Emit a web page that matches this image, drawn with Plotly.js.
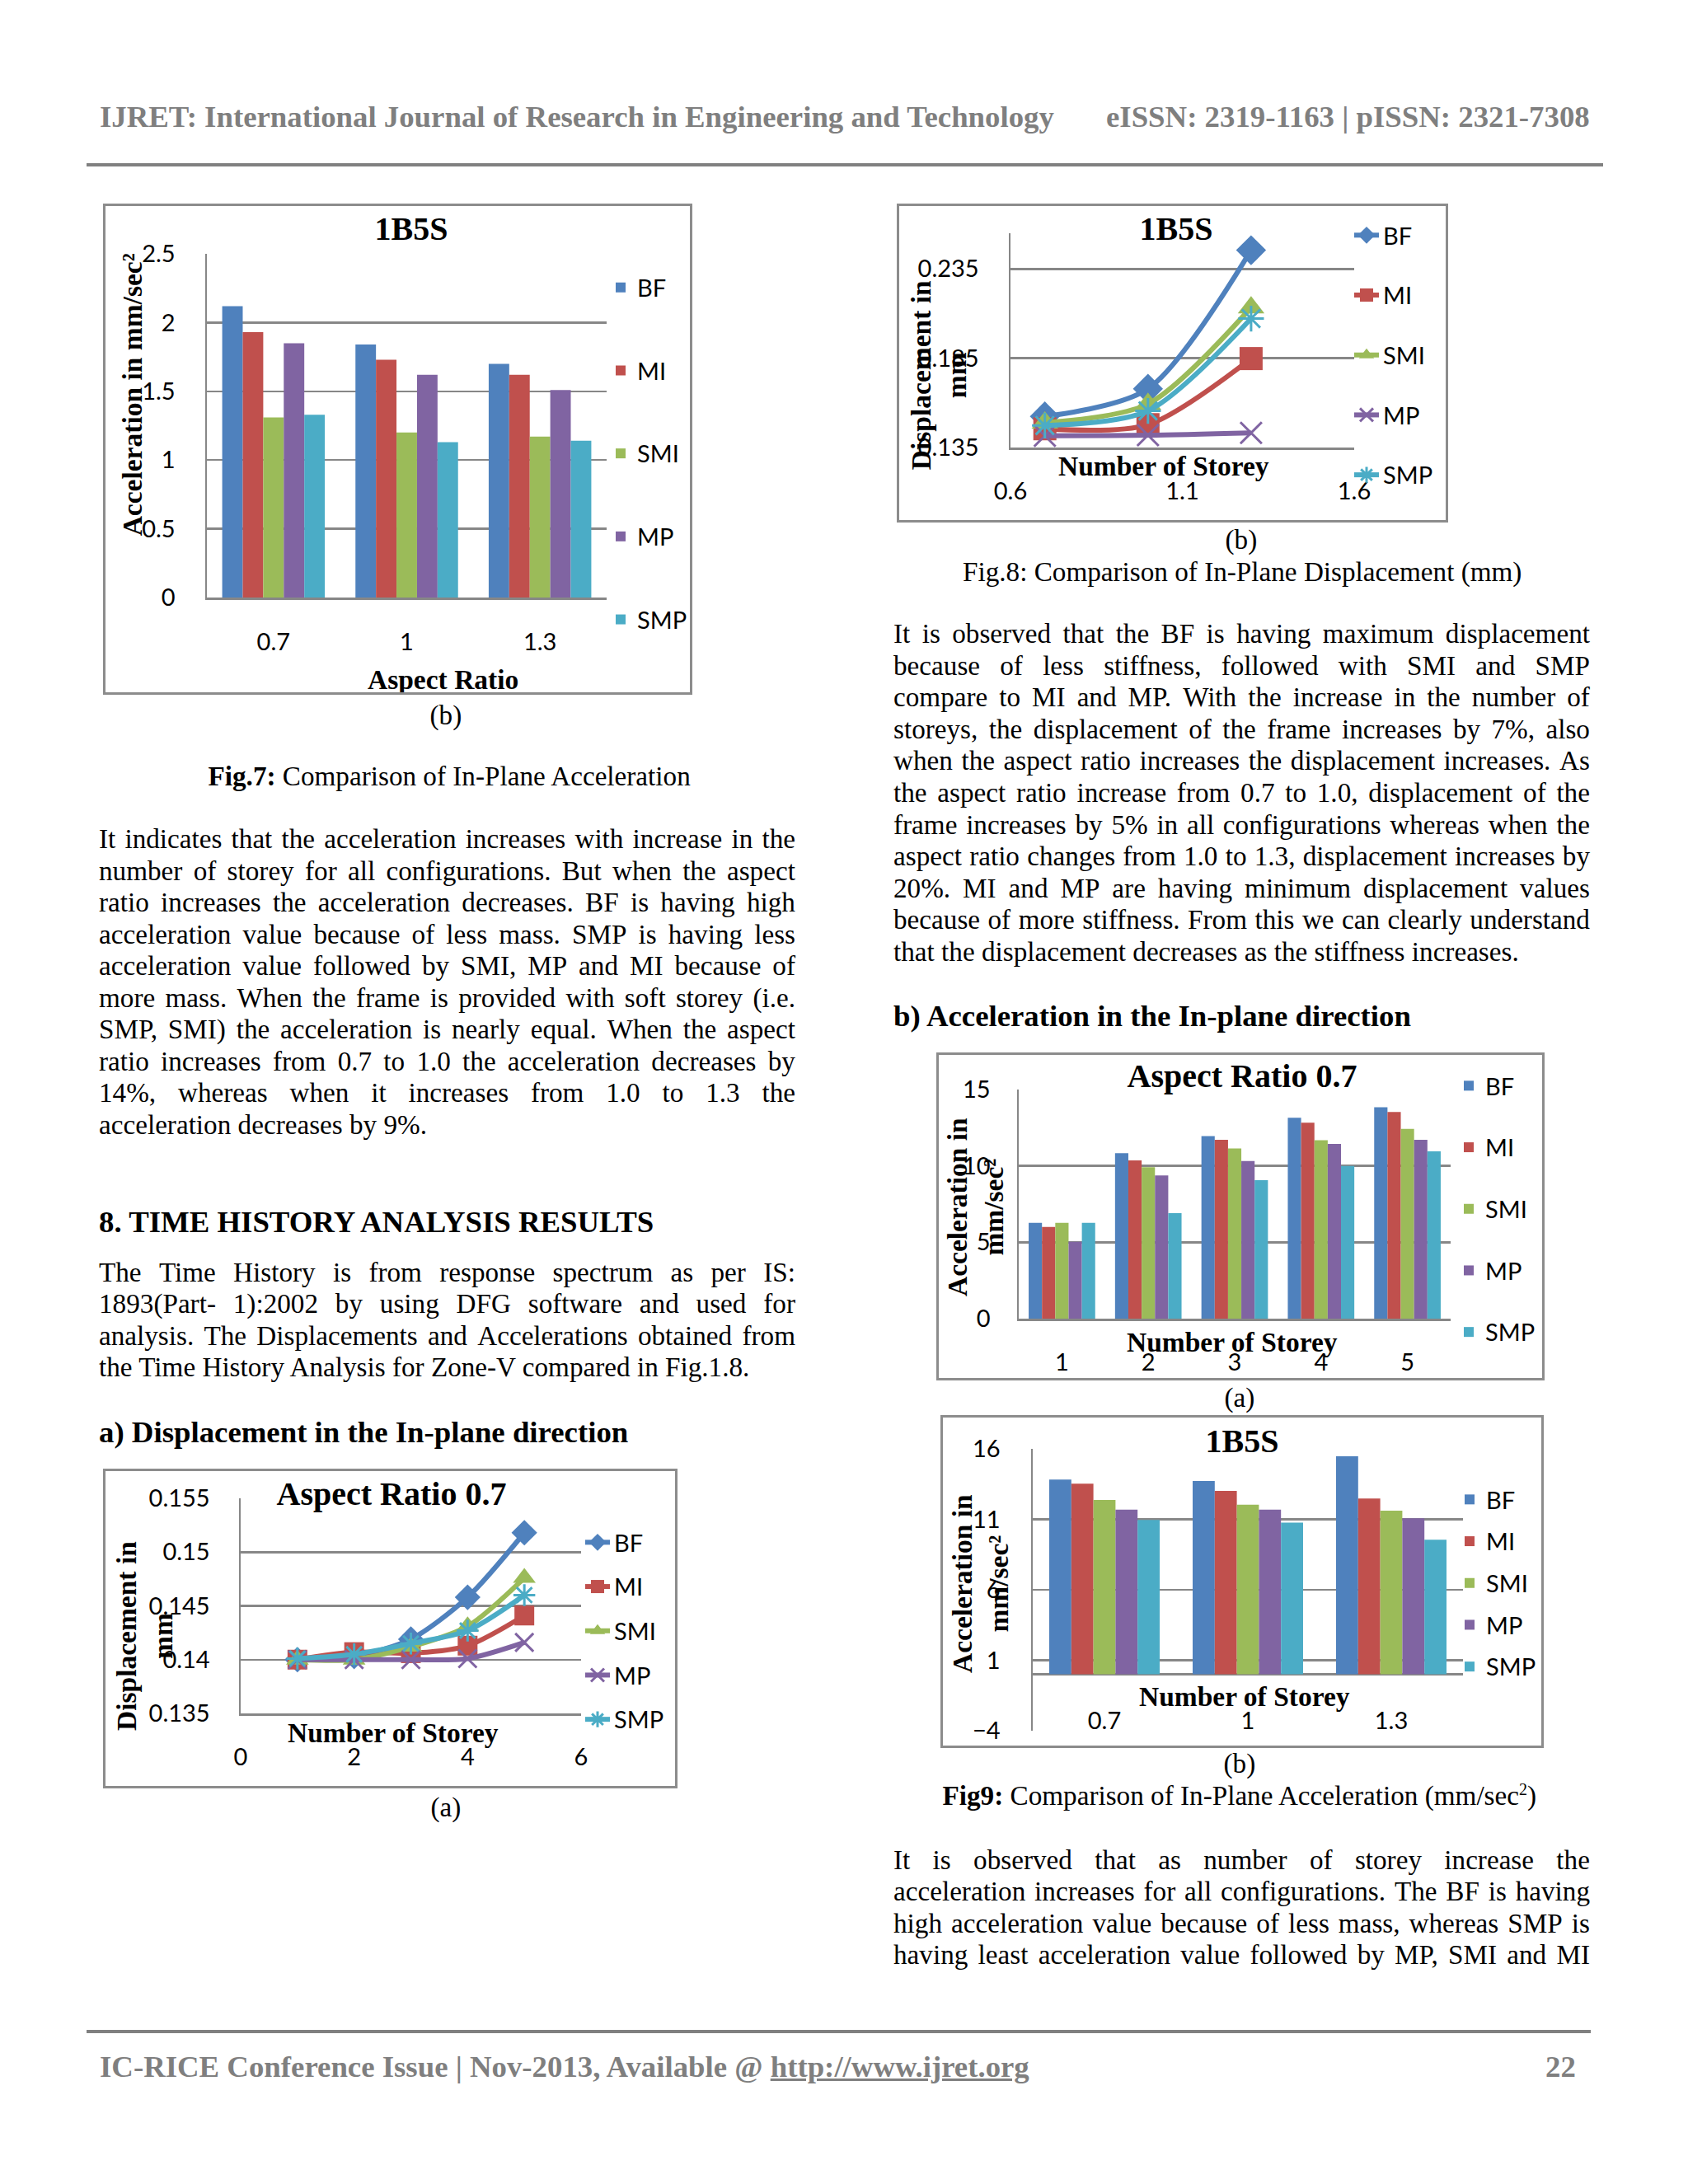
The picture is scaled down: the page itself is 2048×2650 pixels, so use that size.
<!DOCTYPE html>
<html>
<head>
<meta charset="utf-8">
<script src="https://cdn.plot.ly/plotly-3.0.1.min.js"></script>
<style>
  html, body { margin:0; padding:0; background:#ffffff; }
  body { width:2048px; height:2650px; position:relative; overflow:hidden;
         font-family:"Liberation Serif","Times New Roman",serif; color:#000; }
  .jline { position:absolute; display:flex; justify-content:space-between; white-space:nowrap;
           font-size:33.2px; height:38.5px; line-height:38.5px; }
  .tline { position:absolute; white-space:nowrap; font-size:33.2px; height:38.5px; line-height:38.5px; }
  .head { position:absolute; white-space:nowrap; font-size:36.8px; font-weight:bold; height:40px; line-height:40px; }
  .gray { color:#7f7f7f; }
  .rule { position:absolute; height:4px; background:#808080; }
  .box { position:absolute; border:3px solid #8c8c8c; box-sizing:border-box; pointer-events:none; }
</style>
</head>
<body>
<script>
// ---------------- DATA ----------------
const seriesNames  = ['BF', 'MI', 'SMI', 'MP', 'SMP'];
const seriesColors = ['#4F81BD', '#C0504D', '#9BBB59', '#8064A2', '#4BACC6'];
const lineSymbols  = ['diamond', 'square', 'triangle-up', 'x-thin-open', 'asterisk-open'];

// Fig.7(b) 1B5S acceleration vs aspect ratio
const fig7Ratios = ['0.7', '1', '1.3'];
const fig7BF  = [2.12, 1.84, 1.70];
const fig7MI  = [1.93, 1.73, 1.62];
const fig7SMI = [1.31, 1.20, 1.17];
const fig7MP  = [1.85, 1.62, 1.51];
const fig7SMP = [1.33, 1.13, 1.14];
const fig7Ticks = [0, 0.5, 1, 1.5, 2, 2.5];

// Fig.8(b) 1B5S displacement
const fig8bX   = [0.7, 1.0, 1.3];
const fig8bBF  = [0.1524, 0.1679, 0.2455];
const fig8bMI  = [0.1455, 0.1478, 0.1848];
const fig8bSMI = [0.1489, 0.1594, 0.2134];
const fig8bMP  = [0.1416, 0.1419, 0.1432];
const fig8bSMP = [0.1473, 0.1555, 0.2072];
const fig8bXTicks = [0.6, 1.1, 1.6];
const fig8bYTicks = [0.135, 0.185, 0.235];

// Fig.8(a) Aspect ratio 0.7 displacement
const fig8aStoreys = [1, 2, 3, 4, 5];
const fig8aBF  = [0.1400, 0.1403, 0.1419, 0.1458, 0.1518];
const fig8aMI  = [0.1400, 0.1407, 0.1406, 0.1413, 0.1441];
const fig8aSMI = [0.1400, 0.1400, 0.1412, 0.1431, 0.1476];
const fig8aMP  = [0.1400, 0.1400, 0.1400, 0.1401, 0.1416];
const fig8aSMP = [0.1401, 0.1405, 0.1415, 0.1427, 0.1460];
const fig8aXTicks = [0, 2, 4, 6];
const fig8aYTicks = [0.135, 0.14, 0.145, 0.15, 0.155];

// Fig.9(a) Aspect ratio 0.7 acceleration
const fig9aStoreys = ['1', '2', '3', '4', '5'];
const fig9aBF  = [6.27, 10.83, 11.95, 13.15, 13.84];
const fig9aMI  = [6.00, 10.36, 11.71, 12.83, 13.53];
const fig9aSMI = [6.27,  9.91, 11.14, 11.68, 12.43];
const fig9aMP  = [5.03,  9.37, 10.32, 11.44, 11.71];
const fig9aSMP = [6.27,  6.90,  9.06, 10.00, 10.95];
const fig9aYTicks = [0, 5, 10, 15];

// Fig.9(b) 1B5S acceleration
const fig9bRatios = ['0.7', '1', '1.3'];
const fig9bBF  = [13.82, 13.72, 15.48];
const fig9bMI  = [13.53, 13.02, 12.47];
const fig9bSMI = [12.38, 12.04, 11.61];
const fig9bMP  = [11.69, 11.69, 11.07];
const fig9bSMP = [10.95, 10.76,  9.55];
const fig9bYTicks = [-4, 1, 6, 11, 16];

// ---------------- TEXT ----------------
const headerLeft  = 'IJRET: International Journal of Research in Engineering and Technology';
const headerRight = 'eISSN: 2319-1163 | pISSN: 2321-7308';
const footerLeft  = 'IC-RICE Conference Issue | Nov-2013, Available @ ';
const footerLink  = 'http://www.ijret.org';
const pageNumber  = '22';

const leftPara1 = [
 'It indicates that the acceleration increases with increase in the',
 'number of storey for all configurations. But when the aspect',
 'ratio increases the acceleration decreases. BF is having high',
 'acceleration value because of less mass. SMP is having less',
 'acceleration value followed by SMI, MP and MI because of',
 'more mass. When the frame is provided with soft storey (i.e.',
 'SMP, SMI) the acceleration is nearly equal. When the aspect',
 'ratio increases from 0.7 to 1.0 the acceleration decreases by',
 '14%, whereas when it increases from 1.0 to 1.3 the',
 'acceleration decreases by 9%.'
];
const leftPara2 = [
 'The Time History is from response spectrum as per IS:',
 '1893(Part- 1):2002 by using DFG software and used for',
 'analysis. The Displacements and Accelerations obtained from',
 'the Time History Analysis for Zone-V compared in Fig.1.8.'
];
const rightPara1 = [
 'It is observed that the BF is having maximum displacement',
 'because of less stiffness, followed with SMI and SMP',
 'compare to MI and MP. With the increase in the number of',
 'storeys, the displacement of the frame increases by 7%, also',
 'when the aspect ratio increases the displacement increases. As',
 'the aspect ratio increase from 0.7 to 1.0, displacement of the',
 'frame increases by 5% in all configurations whereas when the',
 'aspect ratio changes from 1.0 to 1.3, displacement increases by',
 '20%. MI and MP are having minimum displacement values',
 'because of more stiffness. From this we can clearly understand',
 'that the displacement decreases as the stiffness increases.'
];
const rightPara2 = [
 'It is observed that as number of storey increase the',
 'acceleration increases for all configurations. The BF is having',
 'high acceleration value because of less mass, whereas SMP is',
 'having least acceleration value followed by MP, SMI and MI'
];

// ---------------- PAGE TEXT LAYOUT ----------------
function el(cls, html, css) {
  const d = document.createElement('div');
  d.className = cls; d.innerHTML = html; d.style.cssText = css;
  document.body.appendChild(d); return d;
}
function paragraph(lines, left, width, firstCenter, step, justifyLast) {
  lines.forEach((ln, i) => {
    const top = firstCenter + i * step - 20.5;
    const last = (i === lines.length - 1) && !justifyLast;
    if (last) {
      el('tline', ln, `left:${left}px;top:${top}px;`);
    } else {
      const html = ln.split(' ').map(w => `<span>${w}</span>`).join('');
      el('jline', html, `left:${left}px;top:${top}px;width:${width}px;`);
    }
  });
}
function centered(html, cx, cy, cls, extra) {
  const d = el(cls, html, `left:0px;top:${cy - 20.5}px;` + (extra || ''));
  d.style.left = (cx - d.offsetWidth / 2) + 'px';
}

// header / footer
el('head gray', headerLeft, 'left:121px;top:122px;');
const hr = el('head gray', headerRight, 'top:122px;');
hr.style.left = (1929 - hr.offsetWidth) + 'px';
el('rule', '', 'left:105px;top:198px;width:1840px;');
el('rule', '', 'left:105px;top:2463px;width:1825px;');
el('head gray', footerLeft + '<span style="text-decoration:underline">' + footerLink + '</span>', 'left:121px;top:2488px;');
const pn = el('head gray', pageNumber, 'top:2488px;');
pn.style.left = (1912 - pn.offsetWidth) + 'px';

const LX = 120, RX = 1084, CW = 845;
centered('(b)', 541, 869, 'tline');
centered('<b>Fig.7:</b> Comparison of In-Plane Acceleration', 545, 943, 'tline');
paragraph(leftPara1, LX, CW, 1019.5, 38.5, false);
el('head', '8. TIME HISTORY ANALYSIS RESULTS', `left:${LX}px;top:${1484 - 21}px;`);
paragraph(leftPara2, LX, CW, 1545, 38.5, false);
el('head', 'a) Displacement in the In-plane direction', `left:${LX}px;top:${1739 - 21}px;`);
centered('(a)', 541, 2194, 'tline');

centered('(b)', 1506, 656, 'tline');
centered('Fig.8: Comparison of In-Plane Displacement (mm)', 1507, 695, 'tline');
paragraph(rightPara1, RX, CW, 770.5, 38.6, false);
el('head', 'b) Acceleration in the In-plane direction', `left:${RX}px;top:${1234 - 21}px;`);
centered('(a)', 1504, 1697, 'tline');
centered('(b)', 1504, 2141, 'tline');
centered('<b>Fig9:</b> Comparison of In-Plane Acceleration (mm/sec<sup style="font-size:20px;line-height:0">2</sup>)', 1504, 2180, 'tline');
paragraph(rightPara2, RX, CW, 2258, 38.5, true);

// ---------------- CHARTS ----------------
const GRID = '#878787';
const SANS = 'Lato, "Open Sans", sans-serif';
const SERIF = '"Liberation Serif", "Times New Roman", serif';
const tickFont  = { family: SANS, size: 29, color: '#000' };
const titleFont = { family: SERIF, size: 40, color: '#000' };
const axTitleFont = { family: SERIF, size: 33.5, color: '#000' };

function makeChart(o) {
  const { id, box, plot } = o;
  const div = document.createElement('div');
  div.id = id;
  div.style.cssText = `position:absolute;left:${box.L}px;top:${box.T}px;width:${box.W}px;height:${box.H}px;`;
  document.body.appendChild(div);
  el('box', '', `left:${box.L}px;top:${box.T}px;width:${box.W}px;height:${box.H}px;`);

  const px = X => (X - plot.x0) / (plot.x1 - plot.x0);
  const py = Y => (plot.y1 - Y) / (plot.y1 - plot.y0);

  const xaxis = Object.assign({
      showgrid: false, zeroline: false, showline: true, linecolor: GRID, linewidth: 2.5,
      ticks: '', tickfont: tickFont, fixedrange: true
    }, o.xaxis);
  if (o.xLabelY !== undefined) { xaxis.position = py(o.xLabelY); }

  const layout = {
    width: box.W, height: box.H,
    margin: { l: plot.x0 - box.L, r: box.L + box.W - plot.x1, t: plot.y0 - box.T, b: box.T + box.H - plot.y1, pad: 0, autoexpand: false },
    paper_bgcolor: 'rgba(0,0,0,0)', plot_bgcolor: 'rgba(0,0,0,0)',
    showlegend: true,
    barmode: 'group', bargap: o.bargap || 0.23, bargroupgap: 0,
    title: { text: '<b>' + o.title + '</b>', font: titleFont, xref: 'container', yref: 'container',
             x: (o.titleXY[0] - box.L) / box.W, y: 1 - (o.titleXY[1] - box.T) / box.H,
             xanchor: 'center', yanchor: 'middle' },
    legend: { x: px(o.legendXY[0]), y: py(o.legendXY[1]), xanchor: 'left', yanchor: 'top',
              font: tickFont, traceorder: 'grouped', tracegroupgap: o.legendGap,
              bgcolor: 'rgba(0,0,0,0)', borderwidth: 0, maxheight: 2000 },
    annotations: [
      { text: '<b>' + o.xTitle + '</b>', font: axTitleFont, xref: 'paper', yref: 'paper',
        x: px(o.xTitleXY[0]), y: py(o.xTitleXY[1]), xanchor: 'center', yanchor: 'middle', showarrow: false },
      { text: '<b>' + o.yTitle + '</b>', font: axTitleFont, xref: 'paper', yref: 'paper', textangle: -90,
        x: px(o.yTitleXY[0]), y: py(o.yTitleXY[1]), xanchor: 'center', yanchor: 'middle', showarrow: false }
    ],
    xaxis: xaxis,
    yaxis: Object.assign({
      showgrid: true, gridcolor: GRID, gridwidth: 2.5, zeroline: false,
      showline: true, linecolor: GRID, linewidth: 2.5,
      ticks: '', tickfont: tickFont, fixedrange: true
    }, o.yaxis)
  };
  Plotly.newPlot(div, o.traces, layout, { staticPlot: true, displayModeBar: false });
}

function barTraces(x, ys) {
  return ys.map((y, i) => ({
    type: 'bar', x: x, y: y, name: seriesNames[i], legendgroup: seriesNames[i],
    marker: { color: seriesColors[i], line: { width: 0 } }
  }));
}
function lineTraces(x, ys, msize) {
  return ys.map((y, i) => {
    const open = lineSymbols[i].indexOf('open') >= 0;
    return {
      type: 'scatter', mode: 'lines+markers', x: x, y: y, name: seriesNames[i], legendgroup: seriesNames[i],
      line: { color: seriesColors[i], width: 6, shape: 'spline', smoothing: 0.8 },
      marker: { symbol: lineSymbols[i], size: open ? msize - 2 : msize, color: seriesColors[i],
                line: { color: seriesColors[i], width: open ? 3 : 0 } }
    };
  });
}

// Fig.7(b)
makeChart({
  id: 'fig7b', box: { L: 125, T: 247, W: 715, H: 596 }, plot: { x0: 251, x1: 736, y0: 307.6, y1: 724.7 },
  title: '1B5S', titleXY: [499, 277],
  xTitle: 'Aspect Ratio', xTitleXY: [537, 824],
  yTitle: 'Acceleration in mm/sec²', yTitleXY: [160, 479],
  legendXY: [733, 323], legendGap: 60,
  traces: barTraces(fig7Ratios, [fig7BF, fig7MI, fig7SMI, fig7MP, fig7SMP]),
  xaxis: { type: 'category', ticklabelstandoff: 27 },
  yaxis: { range: [0, 2.5], tickvals: fig7Ticks, ticklabelstandoff: 30 }
});

// Fig.8(b)
makeChart({
  id: 'fig8b', box: { L: 1088, T: 247, W: 669, H: 387 }, plot: { x0: 1226, x1: 1643, y0: 283, y1: 542.7 },
  title: '1B5S', titleXY: [1427, 277],
  xTitle: 'Number of Storey', xTitleXY: [1412, 565],
  yTitle: 'Displacement in<br>mm', yTitleXY: [1139, 455],
  legendXY: [1638, 260], legendGap: 32,
  traces: lineTraces(fig8bX, [fig8bBF, fig8bMI, fig8bSMI, fig8bMP, fig8bSMP], 28),
  xaxis: { range: [0.6, 1.6], tickvals: fig8bXTicks, ticklabelstandoff: 26 },
  yaxis: { range: [0.135, 0.255], tickvals: fig8bYTicks, ticklabelstandoff: 30 }
});

// Fig.9(a)
makeChart({
  id: 'fig9a', box: { L: 1136, T: 1277, W: 738, H: 398 }, plot: { x0: 1236, x1: 1760, y0: 1322, y1: 1600 },
  title: 'Aspect Ratio 0.7', titleXY: [1507, 1305],
  xTitle: 'Number of Storey', xTitleXY: [1495, 1628],
  yTitle: 'Acceleration in<br>mm/sec²', yTitleXY: [1183, 1465],
  legendXY: [1762, 1292], legendGap: 34,
  traces: barTraces(fig9aStoreys, [fig9aBF, fig9aMI, fig9aSMI, fig9aMP, fig9aSMP]),
  xaxis: { type: 'category', ticklabelstandoff: 26 },
  yaxis: { range: [0, 15], tickvals: fig9aYTicks, ticklabelstandoff: 26 }
});

// Fig.9(b)
makeChart({
  id: 'fig9b', box: { L: 1141, T: 1717, W: 732, H: 404 }, plot: { x0: 1253, x1: 1775, y0: 1758, y1: 2100 },
  title: '1B5S', titleXY: [1507, 1748],
  xTitle: 'Number of Storey', xTitleXY: [1510, 2058],
  yTitle: 'Acceleration in<br>mm/sec²', yTitleXY: [1189, 1922],
  legendXY: [1763, 1794], legendGap: 10,
  traces: barTraces(fig9bRatios, [fig9bBF, fig9bMI, fig9bSMI, fig9bMP, fig9bSMP]),
  xLabelY: 2068,
  xaxis: { type: 'category', anchor: 'free', showline: false, ticklabelstandoff: 0 },
  yaxis: { range: [-4, 16], tickvals: fig9bYTicks, ticklabelstandoff: 31, zeroline: true, zerolinecolor: GRID, zerolinewidth: 2.5 }
});

// Fig.8(a)
makeChart({
  id: 'fig8a', box: { L: 125, T: 1782, W: 697, H: 388 }, plot: { x0: 292, x1: 705, y0: 1818, y1: 2079 },
  title: 'Aspect Ratio 0.7', titleXY: [475, 1812],
  xTitle: 'Number of Storey', xTitleXY: [477, 2103],
  yTitle: 'Displacement in<br>mm', yTitleXY: [175, 1985],
  legendXY: [705, 1846], legendGap: 13,
  traces: lineTraces(fig8aStoreys, [fig8aBF, fig8aMI, fig8aSMI, fig8aMP, fig8aSMP], 24),
  xaxis: { range: [0, 6], tickvals: fig8aXTicks, ticklabelstandoff: 26 },
  yaxis: { range: [0.135, 0.155], tickvals: fig8aYTicks, ticklabelstandoff: 29 }
});
</script>
</body>
</html>
